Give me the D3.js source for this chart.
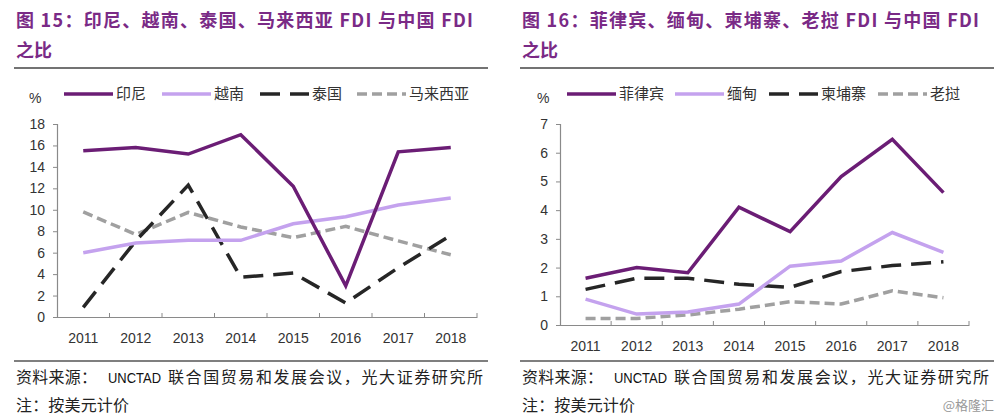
<!DOCTYPE html>
<html><head><meta charset="utf-8">
<script src="https://cdn.jsdelivr.net/npm/d3@7"></script>
<style>
body{margin:0;background:#fff;}
svg{display:block;}
text{font-family:"Liberation Sans",Arial,"Noto Sans CJK SC",sans-serif;}
.cjk{font-family:"Noto Sans CJK SC","Liberation Sans",sans-serif;}
</style></head>
<body>
<svg id="c" width="1000" height="419"></svg>
<script>
const years = ["2011","2012","2013","2014","2015","2016","2017","2018"];

// Left chart: 图15
const leftTitle1 = "图 15：印尼、越南、泰国、马来西亚 FDI 与中国 FDI";
const leftTitle2 = "之比";
const leftNames = ["印尼","越南","泰国","马来西亚"];
const indonesia = [15.5, 15.8, 15.2, 17.0, 12.2, 2.9, 15.4, 15.8];
const vietnam   = [6.0, 6.9, 7.15, 7.15, 8.7, 9.35, 10.45, 11.1];
const thailand  = [0.9, 7.1, 12.3, 3.7, 4.1, 1.3, 4.6, 7.6];
const malaysia  = [9.8, 7.7, 9.75, 8.4, 7.4, 8.45, 7.1, 5.8];
const leftTicks = [0,2,4,6,8,10,12,14,16,18];

// Right chart: 图16
const rightTitle1 = "图 16：菲律宾、缅甸、柬埔寨、老挝 FDI 与中国 FDI";
const rightTitle2 = "之比";
const rightNames = ["菲律宾","缅甸","柬埔寨","老挝"];
const philippines = [1.63, 2.0, 1.82, 4.1, 3.25, 5.17, 6.47, 4.61];
const myanmar     = [0.9, 0.38, 0.45, 0.73, 2.05, 2.23, 3.22, 2.53];
const cambodia    = [1.24, 1.63, 1.63, 1.42, 1.31, 1.86, 2.07, 2.2];
const laos        = [0.23, 0.23, 0.35, 0.55, 0.81, 0.73, 1.19, 0.95];
const rightTicks = [0,1,2,3,4,5,6,7];

const sourceParts = ["资料来源：", "UNCTAD", "联合国贸易和发展会议，光大证券研究所"];
const noteText = "注：按美元计价";
const watermark = "@格隆汇";

const styles = [
  {color:"#6B1D75", dash:null, w:3.5},
  {color:"#C4A2EE", dash:null, w:3.5},
  {color:"#262626", dash:"20,10", w:3.5},
  {color:"#A0A0A0", dash:"10,5", w:3.5}
];

const svg = d3.select("#c");

function panel(o){
  const g = svg.append("g");
  // title
  g.append("text").attr("class","cjk").attr("x",o.x0+2).attr("y",27)
    .attr("font-size",18).attr("font-weight","bold").attr("fill","#7A2A86")
    .attr("textLength",457).attr("lengthAdjust","spacing")
    .text(o.t1);
  g.append("text").attr("class","cjk").attr("x",o.x0+2).attr("y",57)
    .attr("font-size",18).attr("font-weight","bold").attr("fill","#7A2A86")
    .text(o.t2);
  g.append("line").attr("x1",o.x0).attr("x2",o.x0+474).attr("y1",68).attr("y2",68)
    .attr("stroke","#444").attr("stroke-width",1.5);

  const x = d3.scaleBand().domain(years).range([o.ax0,o.ax1]).padding(0);
  const y = d3.scaleLinear().domain([0,o.ymax]).range([o.yb,o.yt]);
  const cx = d => x(d)+x.bandwidth()/2;

  // y axis
  const ya = g.append("g").attr("transform",`translate(${o.ax0},0)`)
    .call(d3.axisLeft(y).tickValues(o.ticks).tickFormat(d3.format("d")).tickSize(4).tickPadding(8));
  ya.select(".domain").attr("stroke","#8a8a8a").attr("stroke-width",1.2);
  ya.selectAll(".tick line").attr("stroke","#8a8a8a");
  ya.selectAll("text").attr("font-size",14).attr("fill","#333").attr("font-family","Liberation Sans, Arial, sans-serif");

  // x axis
  const xa = g.append("g").attr("transform",`translate(0,${o.yb})`)
    .call(d3.axisBottom(x).tickSize(0).tickPadding(16).tickSizeOuter(0));
  xa.select(".domain").attr("stroke","#8a8a8a").attr("stroke-width",1.2);
  xa.selectAll("text").attr("font-size",14).attr("fill","#333").attr("font-family","Liberation Sans, Arial, sans-serif");
  const bounds = years.map(d=>x(d)).concat([o.ax1]).slice(1);
  xa.selectAll("line.bt").data(bounds).enter().append("line").attr("class","bt")
    .attr("x1",d=>d).attr("x2",d=>d).attr("y1",-4).attr("y2",0)
    .attr("stroke","#8a8a8a").attr("stroke-width",1);

  // lines
  const line = d3.line().x((d,i)=>cx(years[i])).y(d=>y(d));
  const order = [3,2,1,0];
  order.forEach(k=>{
    const s = styles[k];
    g.append("path").datum(o.series[k]).attr("d",line)
      .attr("fill","none").attr("stroke",s.color).attr("stroke-width",s.w)
      .attr("stroke-dasharray",s.dash).attr("stroke-linejoin","miter");
  });

  // legend
  g.append("text").attr("x",o.pctX).attr("y",103).attr("font-size",14).attr("fill","#333").text("%");
  o.names.forEach((n,k)=>{
    const s = styles[k];
    const lx = o.legX[k];
    g.append("line").attr("x1",lx).attr("x2",lx+49).attr("y1",94).attr("y2",94)
      .attr("stroke",s.color).attr("stroke-width",s.w).attr("stroke-dasharray",s.dash);
    g.append("text").attr("class","cjk").attr("x",lx+52).attr("y",99).attr("font-size",15)
      .attr("fill","#333").text(n);
  });

  // footer
  g.append("line").attr("x1",o.x0).attr("x2",o.x0+474).attr("y1",361).attr("y2",361)
    .attr("stroke","#555").attr("stroke-width",1.5);
  const fy = 383;
  g.append("text").attr("class","cjk").attr("x",o.x0+2).attr("y",fy).attr("font-size",16)
    .attr("fill","#222").attr("textLength",81).attr("lengthAdjust","spacing").text(sourceParts[0]);
  g.append("text").attr("x",o.x0+94).attr("y",fy).attr("font-size",14)
    .attr("fill","#111").attr("textLength",53).attr("lengthAdjust","spacingAndGlyphs").text(sourceParts[1]);
  g.append("text").attr("class","cjk").attr("x",o.x0+154).attr("y",fy).attr("font-size",16)
    .attr("fill","#222").attr("textLength",315).attr("lengthAdjust","spacing").text(sourceParts[2]);
  g.append("text").attr("class","cjk").attr("x",o.x0+2).attr("y",411).attr("font-size",16)
    .attr("fill","#222").attr("textLength",113).attr("lengthAdjust","spacing").text(noteText);
}

panel({x0:14, t1:leftTitle1, t2:leftTitle2, ax0:57, ax1:477, yb:317, yt:124, ymax:18,
  ticks:leftTicks, series:[indonesia,vietnam,thailand,malaysia], names:leftNames,
  pctX:29, legX:[64,162,260,357]});
panel({x0:520, t1:rightTitle1, t2:rightTitle2, ax0:560, ax1:969, yb:325, yt:124, ymax:7,
  ticks:rightTicks, series:[philippines,myanmar,cambodia,laos], names:rightNames,
  pctX:537, legX:[567,675,769,878]});

svg.append("text").attr("class","cjk").attr("x",994).attr("y",410).attr("text-anchor","end")
  .attr("font-size",13).attr("fill","#999").text(watermark);
</script>
</body></html>
